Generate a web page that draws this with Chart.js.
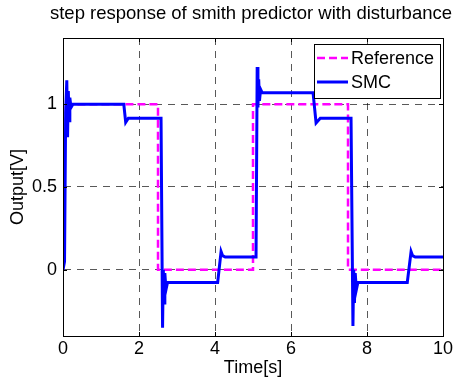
<!DOCTYPE html>
<html>
<head>
<meta charset="utf-8">
<script src="https://cdn.jsdelivr.net/npm/chart.js@4.4.1/dist/chart.umd.min.js"></script>
<style>
  body { margin: 0; background: #fff; }
  #wrap { width: 457px; height: 383px; }
</style>
</head>
<body>
<div id="wrap"><canvas id="myChart" width="457" height="383"></canvas></div>
<script>
// datos
const chartTitle = 'step response of smith predictor with disturbance';
const xTicks = [0, 2, 4, 6, 8, 10];
const yTicks = [0, 0.5, 1];

// senal de referencia (escalones)
const refTime = [0, 0, 2.5, 2.5, 5, 5, 7.5, 7.5, 10];
const refValue = [0, 1, 1, 0, 0, 1, 1, 0, 0];

// respuesta SMC
const smcTime = [
  0, 0.04, 0.07, 0.1, 0.12, 0.14, 0.16, 0.18, 0.21, 0.26,
  1.6, 1.65, 1.72,
  2.58, 2.62, 2.64, 2.66, 2.68, 2.71, 2.75,
  4.07, 4.16, 4.2, 4.27,
  5.08, 5.11, 5.13, 5.15, 5.17, 5.2, 5.24,
  6.58, 6.66, 6.77,
  7.58, 7.63, 7.65, 7.67, 7.69, 7.72, 7.76,
  9.06, 9.16, 9.2, 9.27,
  10
];
const smcValue = [
  0, 0.05, 0.95, 1.145, 0.8, 1.08, 0.9, 1.04, 0.98, 1.0,
  1.0, 0.89, 0.915,
  0.915, -0.35, 0.0, -0.2, -0.02, -0.12, -0.077,
  -0.077, 0.11, 0.085, 0.077,
  0.077, 1.225, 0.98, 1.15, 1.02, 1.09, 1.07,
  1.07, 0.887, 0.915,
  0.915, -0.34, 0.0, -0.2, -0.02, -0.12, -0.077,
  -0.077, 0.11, 0.085, 0.077,
  0.077
];

(() => {
  const FONT = "'Liberation Sans', Arial, sans-serif";
  const ctx = document.getElementById('myChart').getContext('2d');

  const toPoints = (xs, ys) => xs.map((x, i) => ({ x: x, y: ys[i] }));

  // titulo, caja, marcas interiores y leyenda al estilo matlab
  const matlabBox = {
    id: 'matlabBox',
    afterDraw(chart) {
      const c = chart.ctx;
      const a = chart.chartArea;
      const xs = chart.scales.x, ys = chart.scales.y;
      c.save();

      // titulo centrado sobre el area del grafico
      c.fillStyle = '#000';
      c.font = '18.5px ' + FONT;
      c.textAlign = 'center';
      c.textBaseline = 'middle';
      c.fillText(chartTitle, (a.left + a.right) / 2 - 2, 14);

      c.strokeStyle = '#000';
      c.lineWidth = 1;
      c.setLineDash([]);
      c.beginPath();
      for (const t of xTicks) {
        const px = Math.round(xs.getPixelForValue(t)) + 0.5;
        c.moveTo(px, a.bottom); c.lineTo(px, a.bottom - 4);
        c.moveTo(px, a.top); c.lineTo(px, a.top + 4);
      }
      for (const t of yTicks) {
        const py = Math.round(ys.getPixelForValue(t)) + 0.5;
        c.moveTo(a.left, py); c.lineTo(a.left + 4, py);
        c.moveTo(a.right, py); c.lineTo(a.right - 4, py);
      }
      c.stroke();
      c.strokeRect(Math.round(a.left) + 0.5, Math.round(a.top) + 0.5,
        Math.round(a.right - a.left), Math.round(a.bottom - a.top));

      // leyenda
      const lx = 314, ly = 44, lw = 126, lh = 54;
      c.fillStyle = '#fff';
      c.fillRect(lx, ly, lw, lh);
      c.strokeRect(lx + 0.5, ly + 0.5, lw, lh);
      c.font = '18px ' + FONT;
      c.textBaseline = 'middle';
      c.textAlign = 'left';
      chart.data.datasets.forEach((ds, i) => {
        const yy = ly + 14 + i * 24;
        c.strokeStyle = ds.borderColor;
        c.lineWidth = ds.borderWidth;
        c.setLineDash(ds.borderDash || []);
        c.beginPath();
        c.moveTo(lx + 3, yy); c.lineTo(lx + 34, yy);
        c.stroke();
        c.setLineDash([]);
        c.fillStyle = '#000';
        c.fillText(ds.label, lx + 37, yy + 1);
      });
      c.restore();
    }
  };

  const grafica = new Chart(ctx, {
    type: 'line',
    data: {
      datasets: [{
        label: 'Reference',
        data: toPoints(refTime, refValue),
        borderColor: '#ff00ff',
        borderWidth: 2.5,
        borderDash: [8, 4],
        pointRadius: 0,
        tension: 0,
        order: 1
      }, {
        label: 'SMC',
        data: toPoints(smcTime, smcValue),
        borderColor: '#0000ff',
        borderWidth: 3,
        pointRadius: 0,
        tension: 0,
        order: 0
      }]
    },
    options: {
      responsive: false,
      animation: false,
      layout: { padding: { left: 0, right: 14, top: 38, bottom: 0 } },
      plugins: {
        legend: { display: false },
        tooltip: { enabled: false },
        title: { display: false }
      },
      scales: {
        x: {
          type: 'linear',
          min: 0,
          max: 10,
          afterBuildTicks: (scale) => { scale.ticks = xTicks.map(v => ({ value: v })); },
          afterFit: (scale) => { scale.height = 47; },
          grid: { color: 'rgba(0,0,0,0.65)', lineWidth: 1, drawTicks: false },
          border: { display: true, color: '#000', width: 1, dash: [7, 6] },
          ticks: { color: '#000', padding: 2, font: { family: FONT, size: 18 } },
          title: {
            display: true, text: 'Time[s]', color: '#000',
            font: { family: FONT, size: 18 },
            padding: { top: 0, bottom: 4 }
          }
        },
        y: {
          type: 'linear',
          min: -0.4,
          max: 1.4,
          afterBuildTicks: (scale) => { scale.ticks = yTicks.map(v => ({ value: v })); },
          afterFit: (scale) => { scale.width = 63; },
          grid: { color: 'rgba(0,0,0,0.65)', lineWidth: 1, drawTicks: false },
          border: { display: true, color: '#000', width: 1, dash: [7, 6] },
          ticks: {
            color: '#000', padding: 6, font: { family: FONT, size: 18 },
            callback: (v) => String(v)
          },
          title: {
            display: true, text: 'Output[V]', color: '#000',
            font: { family: FONT, size: 18 },
            padding: { top: 7, bottom: 0 }
          }
        }
      }
    },
    plugins: [matlabBox]
  });
})();
</script>
</body>
</html>
